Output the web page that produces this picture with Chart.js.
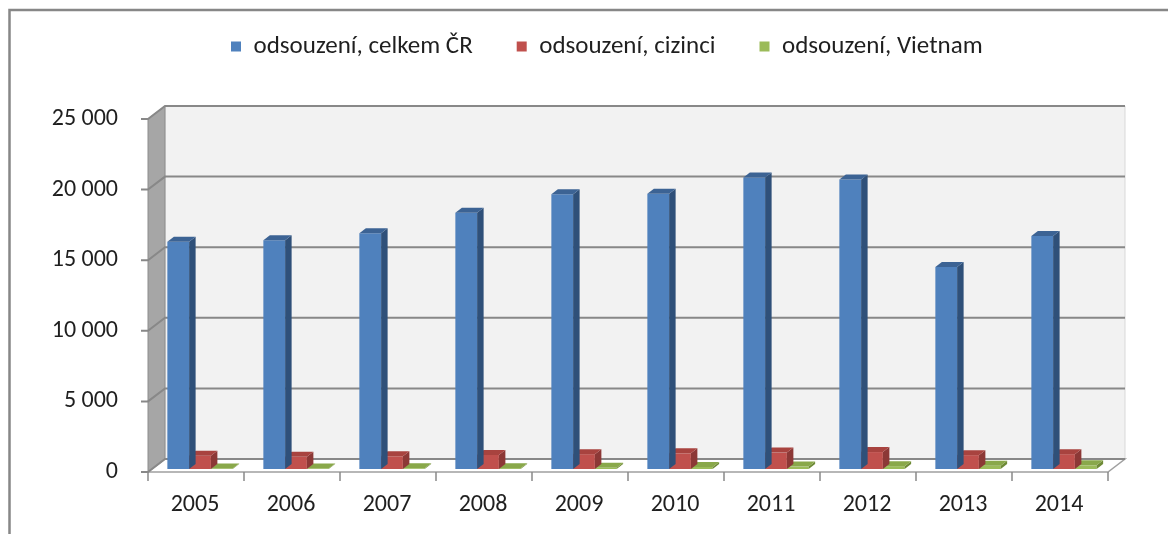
<!DOCTYPE html>
<html>
<head>
<meta charset="utf-8">
<script src="https://cdn.jsdelivr.net/npm/chart.js@4.4.1/dist/chart.umd.min.js"></script>
<style>
  html, body { margin: 0; padding: 0; background: #fff; }
</style>
</head>
<body>
<canvas id="barChart" width="1168" height="534"></canvas>
<script>
// data
var years = ["2005", "2006", "2007", "2008", "2009", "2010", "2011", "2012", "2013", "2014"];
var celkemCR = [16100, 16200, 16700, 18150, 19450, 19500, 20650, 20500, 14300, 16500];
var cizinci = [940, 860, 900, 1000, 1050, 1110, 1160, 1200, 980, 1050];
var vietnam = [40, 40, 50, 60, 80, 150, 170, 200, 230, 260];
var seriesNames = ["odsouzení, celkem ČR", "odsouzení, cizinci", "odsouzení, Vietnam"];

var faceColors = [
    { front: "#4F81BD", side: "#2F5079", top: "#3C6394" },
    { front: "#C0504D", side: "#8C3836", top: "#A8433F" },
    { front: "#9BBB59", side: "#6E8A36", top: "#89A84A" }
];

// offsets of the front plane and back wall from the bars' plane
var frontOff = { dx: -4, dy: 3 };
var backOff = { dx: 13, dy: -10 };
var barDepth = { dx: 6.5, dy: -5 };

function fmt(v) {
    return String(v).replace(/\B(?=(\d{3})+(?!\d))/g, " ");
}

function poly(ctx, pts, fill, stroke, lw) {
    ctx.beginPath();
    ctx.moveTo(pts[0][0], pts[0][1]);
    for (var i = 1; i < pts.length; i++) ctx.lineTo(pts[i][0], pts[i][1]);
    ctx.closePath();
    if (fill) { ctx.fillStyle = fill; ctx.fill(); }
    if (stroke) { ctx.strokeStyle = stroke; ctx.lineWidth = lw || 1; ctx.stroke(); }
}

var depth3d = {
    id: "depth3d",
    beforeLayout: function (chart) {
        var lg = chart.legend;
        if (lg && !lg._patched) {
            var origFit = lg.fit.bind(lg);
            lg.fit = function () { origFit(); this.height = 116; };
            lg._patched = true;
        }
    },
    afterLayout: function (chart) {
        if (chart.legend) {
            chart.legend.top -= 10;
            chart.legend.left += 187;
            chart.legend.right += 187;
        }
    },
    beforeDraw: function (chart) {
        var ctx = chart.ctx;
        ctx.save();
        ctx.strokeStyle = "#878787";
        ctx.lineWidth = 2.5;
        ctx.strokeRect(9.5, 10, 1200, 600);
        ctx.restore();
    },
    beforeDatasetsDraw: function (chart) {
        var ctx = chart.ctx, a = chart.chartArea, y = chart.scales.y;
        var fl = a.left + frontOff.dx, bl = a.left + backOff.dx;
        var fr = a.right + frontOff.dx, br = a.right + backOff.dx;
        var y0 = y.getPixelForValue(0), yMax = y.getPixelForValue(y.max);
        ctx.save();
        // back wall
        poly(ctx, [[bl, yMax + backOff.dy], [br, yMax + backOff.dy], [br, y0 + backOff.dy], [bl, y0 + backOff.dy]], "#F2F2F2", "#D9D9D9", 1);
        // side wall
        poly(ctx, [[fl, yMax + frontOff.dy], [bl, yMax + backOff.dy], [bl, y0 + backOff.dy], [fl, y0 + frontOff.dy]], "#A6A6A6", "#8C8C8C", 1);
        // floor
        poly(ctx, [[fl, y0 + frontOff.dy], [fr, y0 + frontOff.dy], [br, y0 + backOff.dy], [bl, y0 + backOff.dy]], "#FFFFFF", "#A0A0A0", 1.5);
        // grid lines
        ctx.strokeStyle = "#888888";
        ctx.lineWidth = 2;
        y.ticks.forEach(function (t) {
            var py = y.getPixelForValue(t.value);
            ctx.beginPath();
            ctx.moveTo(fl - 7, py + frontOff.dy);
            ctx.lineTo(fl, py + frontOff.dy);
            ctx.lineTo(bl, py + backOff.dy);
            ctx.lineTo(br, py + backOff.dy);
            ctx.stroke();
        });
        // category ticks on the front edge
        ctx.lineWidth = 1.5;
        var n = chart.data.labels.length;
        var cw = (a.right - a.left) / n;
        for (var i = 0; i <= n; i++) {
            var px = fl + i * cw;
            ctx.beginPath();
            ctx.moveTo(px, y0 + frontOff.dy);
            ctx.lineTo(px, y0 + frontOff.dy + 9);
            ctx.stroke();
        }
        ctx.restore();
    },
    afterDatasetDraw: function (chart, args) {
        var ctx = chart.ctx, c = faceColors[args.index];
        ctx.save();
        args.meta.data.forEach(function (el) {
            var l = el.x - el.width / 2, r = el.x + el.width / 2, t = el.y, b = el.base;
            var dx = barDepth.dx, dy = barDepth.dy;
            poly(ctx, [[r, t], [r + dx, t + dy], [r + dx, b + dy], [r, b]], c.side);
            poly(ctx, [[l, t], [l + dx, t + dy], [r + dx, t + dy], [r, t]], c.top);
        });
        ctx.restore();
    }
};

Chart.defaults.font.family = "Carlito, Lato, 'Open Sans', sans-serif";
Chart.defaults.font.size = 24;
Chart.defaults.color = "#1F1F1F";

var ctx = document.getElementById("barChart").getContext("2d");
var barChart = new Chart(ctx, {
    type: "bar",
    data: {
        labels: years,
        datasets: [
            { label: seriesNames[0], data: celkemCR, backgroundColor: faceColors[0].front },
            { label: seriesNames[1], data: cizinci, backgroundColor: faceColors[1].front },
            { label: seriesNames[2], data: vietnam, backgroundColor: faceColors[2].front }
        ]
    },
    options: {
        responsive: false,
        animation: false,
        categoryPercentage: 0.68,
        barPercentage: 1,
        layout: { padding: { left: 0, right: 56, top: 0, bottom: 0 } },
        scales: {
            x: {
                grid: { display: false, drawTicks: false },
                border: { display: false },
                ticks: { padding: 22, labelOffset: -5 },
                afterFit: function (s) { s.height = 65; }
            },
            y: {
                min: 0,
                max: 25000,
                grid: { display: false, drawTicks: false },
                border: { display: false },
                ticks: {
                    stepSize: 5000,
                    padding: 34,
                    labelOffset: 3,
                    callback: function (v) { return fmt(v); }
                },
                afterFit: function (s) { s.width = 152; }
            }
        },
        plugins: {
            legend: {
                position: "top",
                align: "start",
                labels: { boxWidth: 10, boxHeight: 10, padding: 44, font: { size: 25 } }
            },
            tooltip: { enabled: false }
        }
    },
    plugins: [depth3d]
});
</script>
</body>
</html>
